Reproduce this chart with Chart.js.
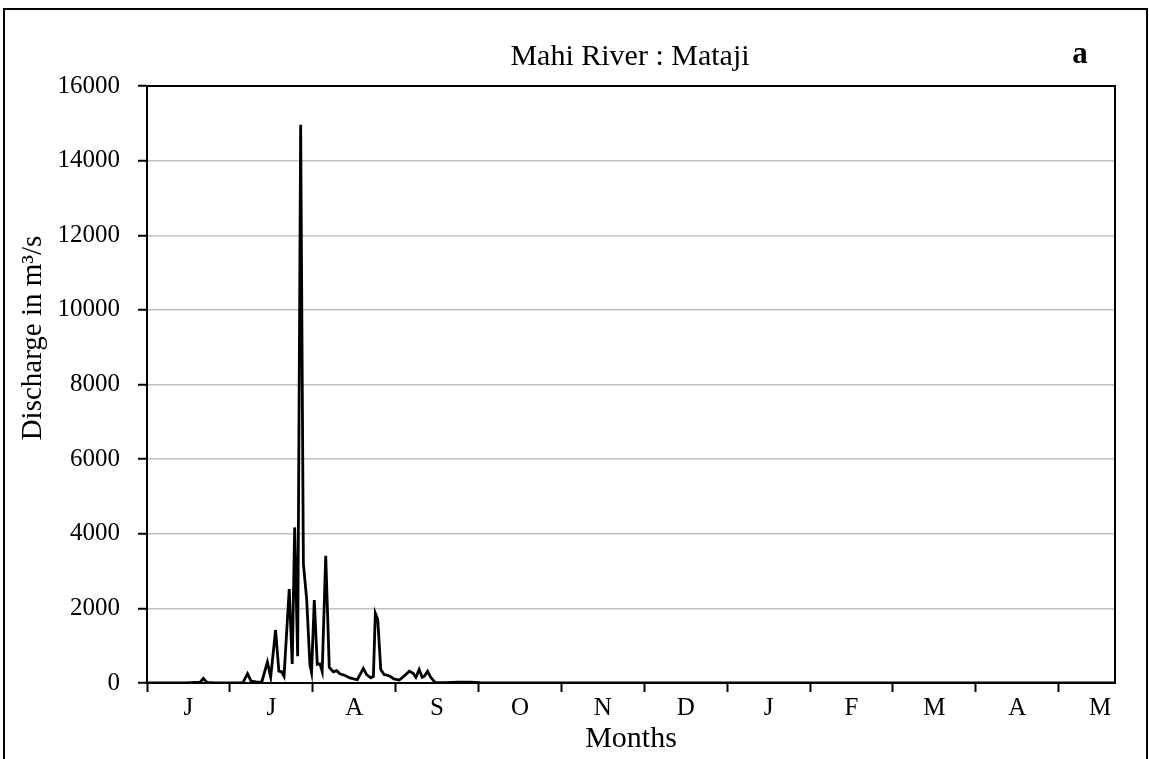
<!DOCTYPE html>
<html>
<head>
<meta charset="utf-8">
<script src="https://cdn.jsdelivr.net/npm/chart.js@4.4.0/dist/chart.umd.min.js"></script>
<style>
  html, body { margin: 0; padding: 0; background: #fff; }
  #wrap { width: 1149px; height: 759px; position: relative; }
</style>
</head>
<body>
<div id="wrap"><canvas id="chart"></canvas></div>
<script>
// Daily discharge, days counted from 1 June (hydrological year June - May)
const MONTH_DAYS = 30.42;
const X_MAX = 355.3;
const monthLabels = ['J', 'J', 'A', 'S', 'O', 'N', 'D', 'J', 'F', 'M', 'A', 'M'];
const yTicks = [0, 2000, 4000, 6000, 8000, 10000, 12000, 14000, 16000];

const days = [
    0, 13.9, 19.5, 20.7, 22.0, 25, 35.2, 36.9, 38.2, 40, 42.1, 44.2, 45.4, 47.2, 48.4,
    49.4, 50.3, 52.2, 53.3, 54.2, 55.3, 56.4, 57.4, 58.6, 59.8, 60.4, 61.4, 62.5, 63.5,
    64.3, 65.6, 66.9, 68.4, 69.6, 70.8, 72.7, 74.5, 75.8, 77.2, 79.4, 80.6, 82.1, 83.1,
    83.8, 84.7, 85.8, 87.0, 88.1, 89.2, 90.6, 92.6, 94.3, 96.3, 97.7, 98.7, 99.9, 101.0,
    101.8, 103.0, 104.1, 105.7, 109.4, 114.1, 118.5, 122.2, 129.5, 140, 355.3
];
const discharge = [
    0, 5, 20, 125, 15, 5, 10, 250, 50, 30, 20, 560, 160, 1420, 320,
    300, 180, 2520, 510, 4170, 720, 14960, 3200, 2250, 490, 280, 2220, 500, 510,
    310, 3410, 420, 300, 330, 245, 200, 135, 110, 90, 390, 225, 140, 180,
    1870, 1700, 360, 225, 210, 180, 110, 80, 180, 315, 260, 150, 360, 150,
    180, 315, 160, 15, 10, 20, 25, 10, 5, 0, 0
];

const points = days.map((d, i) => ({ x: d, y: discharge[i] }));

Chart.defaults.font.family = "'Liberation Serif', 'Times New Roman', serif";
Chart.defaults.color = '#000';

// frame, plot border, titles and panel letter
const decorations = {
    id: 'decorations',
    afterDraw(chart) {
        const { ctx, chartArea: a } = chart;
        ctx.save();
        ctx.strokeStyle = '#000';
        ctx.lineWidth = 2;
        ctx.beginPath();
        ctx.moveTo(a.left, a.top);
        ctx.lineTo(a.right, a.top);
        ctx.lineTo(a.right, a.bottom);
        ctx.stroke();
        ctx.strokeRect(4, 9, 1143, 800);
        ctx.fillStyle = '#000';
        ctx.textAlign = 'center';
        ctx.textBaseline = 'middle';
        ctx.font = "30px 'Liberation Serif'";
        ctx.fillText('Mahi River : Mataji', 630, 57);
        ctx.font = "bold 31px 'Liberation Serif'";
        ctx.fillText('a', 1080, 55);
        ctx.font = "29px 'Liberation Serif'";
        ctx.translate(33, 338);
        ctx.rotate(-Math.PI / 2);
        ctx.fillText('Discharge in m³/s', 0, 0);
        ctx.restore();
    }
};

new Chart(document.getElementById('chart'), {
    type: 'line',
    data: {
        datasets: [{
            data: points,
            borderColor: '#000',
            borderWidth: 2.8,
            pointRadius: 0,
            tension: 0,
            fill: false
        }]
    },
    options: {
        responsive: true,
        maintainAspectRatio: false,
        animation: false,
        layout: { padding: { top: 86, right: 34, left: 0, bottom: 0 } },
        plugins: { legend: { display: false }, tooltip: { enabled: false } },
        scales: {
            x: {
                type: 'linear',
                min: 0,
                max: X_MAX,
                afterBuildTicks: (scale) => {
                    const t = [];
                    monthLabels.forEach((m, k) => {
                        t.push({ value: k * MONTH_DAYS });
                        t.push({ value: (k + 0.5) * MONTH_DAYS });
                    });
                    scale.ticks = t;
                },
                afterFit: (scale) => { scale.height = 76; },
                ticks: {
                    autoSkip: false,
                    maxRotation: 0,
                    padding: 1,
                    font: { size: 25 },
                    callback: (v, i) => (i % 2 ? monthLabels[(i - 1) / 2] : '')
                },
                grid: {
                    drawOnChartArea: false,
                    tickLength: 9,
                    tickWidth: 2,
                    tickColor: (c) => (c.index % 2 ? 'rgba(0,0,0,0)' : '#000')
                },
                border: { color: '#000', width: 2 },
                title: { display: true, text: 'Months', font: { size: 30 }, padding: { bottom: 2 } }
            },
            y: {
                min: 0,
                max: 16000,
                afterBuildTicks: (scale) => { scale.ticks = yTicks.map(v => ({ value: v })); },
                afterFit: (scale) => { scale.width = 147; },
                ticks: { padding: 18, font: { size: 25 }, callback: (v) => String(v) },
                grid: {
                    color: '#c0c0c0',
                    lineWidth: 1.5,
                    tickLength: 9,
                    tickWidth: 2,
                    tickColor: '#000'
                },
                border: { color: '#000', width: 2 }
            }
        }
    },
    plugins: [decorations]
});
</script>
</body>
</html>
